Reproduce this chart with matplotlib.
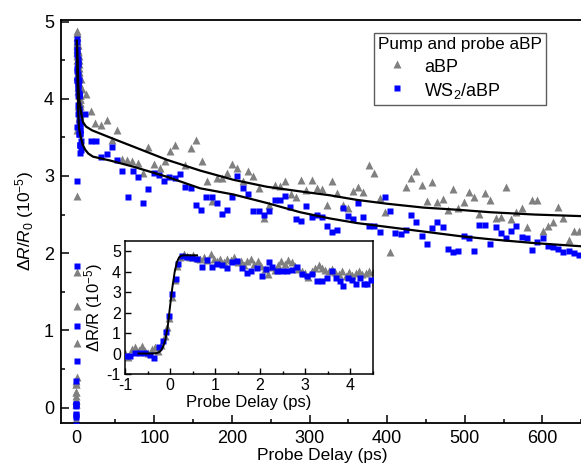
import matplotlib
matplotlib.use("Agg")
import matplotlib.pyplot as plt
from matplotlib.ticker import MultipleLocator

plt.rcParams['font.family'] = ['Liberation Sans', 'DejaVu Sans']
plt.rcParams['mathtext.fontset'] = 'custom'
plt.rcParams['mathtext.rm'] = 'Liberation Sans'
plt.rcParams['mathtext.it'] = 'Liberation Sans:italic'
plt.rcParams['axes.unicode_minus'] = False

GRAY = '#808080'
BLUE = '#0000ff'

# ---------- inset (short delay) data ----------
abp_short_t = [-1.0, -0.93, -0.85, -0.78, -0.7, -0.63, -0.55, -0.48, -0.4, -0.33, -0.26,
               -0.2, -0.12, -0.07, -0.02, 0.05, 0.1, 0.15, 0.22, 0.3, 0.37, 0.45, 0.52,
               0.6, 0.67, 0.75, 0.82, 0.9, 0.97, 1.05, 1.12, 1.2, 1.27, 1.35, 1.42, 1.5,
               1.57, 1.65, 1.72, 1.8, 1.87, 1.95, 2.02, 2.1, 2.17, 2.25, 2.32, 2.4, 2.47,
               2.55, 2.62, 2.7, 2.77, 2.85, 2.92, 3.0, 3.07, 3.15, 3.22, 3.3, 3.37, 3.45,
               3.52, 3.6, 3.67, 3.75, 3.82, 3.9, 3.97, 4.05, 4.12, 4.2, 4.27, 4.35, 4.42, 4.5]
abp_short_v = [0.05, -0.15, 0.2, 0.3, 0.15, 0.35, 0.1, 0.05, 0.2, 0.3, 0.1,
               0.40, 0.84, 1.32, 1.75, 2.74, 3.6, 4.3, 4.7, 4.88, 4.75, 4.7, 4.8,
               4.65, 4.6, 4.72, 4.55, 4.85, 4.6, 4.5, 4.62, 4.45, 4.6, 4.55, 4.7, 4.45,
               4.5, 4.35, 4.5, 4.62, 4.4, 4.5, 4.3, 4.15, 3.9, 4.25, 4.1, 4.35, 4.5,
               4.4, 4.55, 4.45, 4.3, 4.15, 4.05, 3.95, 3.75, 4.05, 4.2, 4.35, 4.2, 4.1,
               4.05, 4.15, 4.0, 3.9, 4.05, 3.8, 4.0, 3.85, 3.95, 4.05, 3.9, 3.95, 4.05, 4.0]

ws2_short_t = [-0.98, -0.89, -0.78, -0.67, -0.56, -0.44, -0.35, -0.24, -0.16, -0.1, -0.03,
               0.05, 0.13, 0.18, 0.26, 0.37, 0.48, 0.59, 0.70, 0.83, 0.93, 1.04, 1.15,
               1.26, 1.37, 1.48, 1.59, 1.70, 1.80, 1.93, 2.04, 2.13, 2.19, 2.27, 2.37,
               2.48, 2.59, 2.70, 2.82, 2.93, 3.04, 3.15, 3.26, 3.37, 3.48, 3.59, 3.68,
               3.78, 3.85, 3.95, 4.04, 4.13, 4.22, 4.30, 4.37, 4.47]
ws2_short_v = [-0.12, -0.1, 0.02, 0.05, 0.04, -0.08, -0.22, 0.34, 0.60, 1.06, 1.84,
               2.93, 3.64, 4.40, 4.78, 4.73, 4.65, 4.62, 4.24, 4.57, 4.24, 4.36, 4.32,
               4.16, 4.45, 4.52, 4.20, 3.92, 4.05, 4.20, 3.80, 4.13, 4.45, 4.24, 4.05,
               4.05, 4.05, 4.08, 4.24, 3.87, 3.80, 3.87, 3.54, 3.54, 3.71, 4.03, 3.67,
               3.54, 3.30, 3.71, 3.59, 3.40, 3.67, 3.40, 3.40, 3.59]

fit_short_t = [-0.7, -0.4, -0.3, -0.25, -0.2, -0.15, -0.1, -0.05, 0.0, 0.05, 0.1,
               0.15, 0.2, 0.25, 0.3, 0.4, 0.6]
fit_short_v = [0.0, 0.0, 0.02, 0.06, 0.15, 0.35, 0.7, 1.35, 2.3, 3.2, 3.95,
               4.45, 4.7, 4.78, 4.8, 4.8, 4.8]

# ---------- long delay data (main panel) ----------
abp_long_t = [5.0, 6.4, 12.1, 18.4, 23.6, 31.3, 38.7, 45.0, 51.5, 58.0, 64.4, 70.9, 79.4,
              85.6, 92.3, 100.0, 107.0, 113.8, 120.0, 126.7, 139.6, 146.9, 153.7, 161.0,
              167.5, 174.0, 180.4, 186.9, 194.0, 200.5, 207.0, 213.9, 221.0, 227.6, 234.9,
              241.4, 248.2, 255.5, 262.0, 268.4, 275.8, 282.2, 288.7, 295.5, 302.8, 309.3,
              315.7, 322.2, 329.4, 335.8, 342.8, 350.0, 356.4, 362.9, 369.3, 377.0, 383.0,
              390.9, 397.3, 403.7, 424.4, 430.8, 437.3, 444.6, 451.8, 458.3, 464.7, 471.6,
              478.1, 485.3, 491.8, 499.1, 505.5, 512.0, 518.8, 526.2, 532.6, 539.9, 546.4,
              552.8, 559.7, 566.1, 573.5, 579.9, 586.3, 593.6, 600.5, 606.9, 613.4, 620.6,
              627.1, 634.0, 640.9, 647.7]
abp_long_v = [4.25, 4.12, 4.06, 3.84, 3.69, 3.66, 3.73, 3.47, 3.59, 3.22, 3.21, 3.20, 3.17,
              3.04, 3.38, 3.15, 3.10, 3.19, 3.32, 3.40, 3.14, 3.36, 3.46, 3.20,
              2.93, 2.67, 2.97, 2.97, 3.04, 3.16, 3.10, 2.93, 3.07, 3.00, 2.84,
              2.45, 2.63, 2.88, 2.87, 2.93, 2.76, 2.73, 2.95, 2.82, 2.95, 2.84,
              2.83, 2.63, 2.94, 2.78, 2.62, 2.58, 2.80, 2.86, 2.79, 3.14, 3.04,
              2.71, 2.53, 2.02, 2.86, 2.97, 3.07, 2.88, 2.67, 2.92, 2.66, 2.70,
              2.56, 2.83, 2.58, 2.66, 2.79, 2.73, 2.51, 2.78, 2.69, 2.45, 2.47,
              2.86, 2.44, 2.53, 2.58, 2.34, 2.69, 2.69, 2.29, 2.35, 2.40, 2.60,
              2.45, 2.17, 2.29, 2.29]

ws2_long_t = [4.6, 5.2, 5.8, 10.7, 18.0, 24.5, 31.3, 38.7, 45.1, 51.5, 58.8, 65.7, 72.2,
              79.4, 85.8, 92.3, 99.6, 106.0, 112.5, 119.3, 126.7, 133.0, 140.0, 146.9,
              153.4, 160.2, 166.6, 174.0, 180.4, 186.9, 194.0, 200.5, 207.0, 213.9, 221.1,
              227.6, 234.9, 241.4, 248.2, 255.5, 262.0, 268.4, 274.9, 282.2, 288.7, 295.5,
              302.8, 309.3, 315.7, 322.2, 329.4, 335.8, 342.8, 350.0, 356.4, 362.9, 369.3,
              377.0, 383.5, 390.9, 397.3, 403.7, 410.2, 417.5, 424.4, 430.8, 437.3, 444.6,
              451.8, 458.3, 464.7, 471.6, 478.1, 485.3, 491.8, 499.1, 505.5, 512.0, 518.8,
              526.2, 532.6, 539.9, 546.4, 552.8, 559.7, 566.1, 573.5, 579.9, 586.3, 593.6,
              600.5, 606.9, 613.4, 620.6, 627.1, 634.0, 640.9, 647.7]
ws2_long_v = [3.55, 3.45, 3.33, 3.80, 3.45, 3.45, 3.25, 3.29, 3.38, 3.21, 3.06, 2.73, 3.07,
              2.98, 2.65, 2.83, 3.04, 3.01, 2.93, 2.98, 2.97, 3.02, 2.86, 2.85,
              2.62, 2.56, 2.73, 2.73, 2.65, 2.51, 2.56, 2.73, 3.00, 2.85, 2.77,
              2.54, 2.55, 2.50, 2.55, 2.69, 2.69, 2.74, 2.60, 2.44, 2.42, 2.61,
              2.47, 2.50, 2.47, 2.35, 2.27, 2.30, 2.58, 2.48, 2.44, 2.65, 2.47,
              2.35, 2.35, 2.28, 2.73, 2.55, 2.26, 2.25, 2.30, 2.50, 2.40, 2.22,
              2.12, 2.32, 2.41, 2.34, 2.06, 2.01, 2.03, 2.22, 2.19, 2.03, 2.37,
              2.37, 2.12, 2.34, 2.26, 2.19, 2.29, 2.35, 2.21, 2.19, 2.04, 2.14,
              2.19, 2.09, 2.08, 2.06, 2.01, 2.03, 2.00, 1.97]

fit_abp_t = [0.3, 1.0, 2.0, 3.0, 5.0, 8.0, 12.0, 20.0, 30.0, 50.0, 73.0, 116.0, 159.0,
             202.0, 245.0, 288.0, 326.0, 361.0, 400.0, 447.0, 494.0, 533.0, 590.0, 649.0]
fit_abp_v = [4.75, 4.5, 4.2, 4.02, 3.86, 3.70, 3.64, 3.59, 3.55, 3.47, 3.38, 3.21, 3.07,
             2.95, 2.86, 2.80, 2.75, 2.69, 2.64, 2.59, 2.56, 2.53, 2.50, 2.48]
fit_ws2_t = [0.3, 1.0, 2.0, 3.0, 5.0, 8.0, 11.0, 15.0, 21.0, 43.0, 73.0, 116.0, 159.0,
             202.0, 245.0, 288.0, 326.0, 361.0, 400.0, 447.0, 494.0, 533.0, 590.0, 649.0]
fit_ws2_v = [4.75, 4.3, 3.81, 3.62, 3.51, 3.40, 3.34, 3.29, 3.25, 3.20, 3.12, 2.99, 2.84,
             2.76, 2.65, 2.53, 2.45, 2.39, 2.34, 2.28, 2.22, 2.18, 2.13, 2.09]

W, H = 581, 471
fig = plt.figure(figsize=(W / 100, H / 100), dpi=100)

# main axes (right edge runs just past the figure edge)
ax = fig.add_axes([61 / W, (H - 423) / H, (584 - 61) / W, (423 - 20) / H])
ax.plot(abp_short_t + abp_long_t, abp_short_v + abp_long_v, linestyle='none',
        marker='^', ms=6.3, color=GRAY, mec='none', label='aBP', zorder=2)
ax.plot(ws2_short_t + ws2_long_t, ws2_short_v + ws2_long_v, linestyle='none',
        marker='s', ms=5, color=BLUE, mec='none', label='WS$_2$/aBP', zorder=3)
ax.plot(fit_abp_t, fit_abp_v, color='black', lw=1.6, zorder=4)
ax.plot(fit_ws2_t, fit_ws2_v, color='black', lw=1.6, zorder=4)

ax.set_xlim(-20.2, 653.7)
ax.set_ylim(-0.2, 5.02)
ax.xaxis.set_major_locator(MultipleLocator(100))
ax.xaxis.set_minor_locator(MultipleLocator(50))
ax.yaxis.set_major_locator(MultipleLocator(1))
ax.yaxis.set_minor_locator(MultipleLocator(0.5))
ax.tick_params(which='both', direction='in', top=False, right=False, width=1.1,
               labelsize=13, pad=5)
ax.tick_params(which='major', length=5.5)
ax.tick_params(which='minor', length=3)
for s in ax.spines.values():
    s.set_linewidth(1.3)
ax.set_xlabel('Probe Delay (ps)', fontsize=12.5, labelpad=1)
ax.set_ylabel(r'$\Delta R/R_0$ (10$^{-5}$)', fontsize=12.5, labelpad=6)

leg = ax.legend(loc='upper left', bbox_to_anchor=(374 / W, 1 - 33 / H),
                bbox_transform=fig.transFigure, title='Pump and probe aBP',
                fontsize=13, title_fontsize=12.3, frameon=True, fancybox=False,
                edgecolor='#333333', borderpad=0.22, handletextpad=0.45,
                handlelength=2.1, handleheight=1.2, labelspacing=0.25,
                borderaxespad=0)
leg.get_frame().set_linewidth(1.0)
leg._legend_box.align = 'left'

# inset axes
ins = fig.add_axes([125 / W, (H - 374) / H, (372.7 - 125) / W, (374 - 241) / H])
ins.plot(abp_short_t, abp_short_v, linestyle='none', marker='^', ms=5.5,
         color=GRAY, mec='none', zorder=2)
ins.plot(ws2_short_t, ws2_short_v, linestyle='none', marker='s', ms=5,
         color=BLUE, mec='none', zorder=3)
ins.plot(fit_short_t, fit_short_v, color='black', lw=1.4, zorder=4)
ins.set_xlim(-1, 4.5)
ins.set_ylim(-1, 5.5)
ins.xaxis.set_major_locator(MultipleLocator(1))
ins.xaxis.set_minor_locator(MultipleLocator(0.5))
ins.yaxis.set_major_locator(MultipleLocator(1))
ins.tick_params(which='both', direction='in', top=False, right=False, width=1.0,
                labelsize=11.5, pad=3)
ins.tick_params(which='major', length=4)
ins.tick_params(which='minor', length=2.5)
for s in ins.spines.values():
    s.set_linewidth(1.1)
ins.set_xlabel('Probe Delay (ps)', fontsize=12, labelpad=1)
ins.set_ylabel('ΔR/R (10$^{-5}$)', fontsize=12, labelpad=1)

fig.savefig('out.png', dpi=100)
